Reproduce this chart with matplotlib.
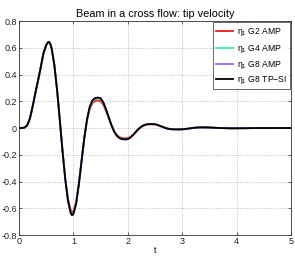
import matplotlib
matplotlib.use("Agg")
import matplotlib.pyplot as plt

plt.rcParams['font.family'] = ['Liberation Sans', 'DejaVu Sans']
plt.rcParams['mathtext.fontset'] = 'custom'
plt.rcParams['mathtext.rm'] = 'Liberation Sans'
plt.rcParams['mathtext.it'] = 'Liberation Sans:italic'

title = "Beam in a cross flow: tip velocity"
xlabel = "t"
labels = [r"$\mathrm{\eta_1}$ G2 AMP", r"$\mathrm{\eta_1}$ G4 AMP",
          r"$\mathrm{\eta_1}$ G8 AMP", r"$\mathrm{\eta_1}$ G8 TP−SI"]
colors = ["#ff1a1a", "#3ff59a", "#9a60ff", "#000000"]

t = [0.0, 0.05, 0.10, 0.15, 0.20, 0.25, 0.30, 0.35, 0.40, 0.45, 0.50, 0.525, 0.55, 0.575,
     0.60, 0.65, 0.70, 0.75, 0.80, 0.85, 0.90, 0.95, 0.975, 1.00, 1.05, 1.10, 1.15, 1.20,
     1.25, 1.30, 1.35, 1.40, 1.45, 1.50, 1.55, 1.60, 1.65, 1.70, 1.75, 1.80, 1.85, 1.90,
     1.95, 2.00, 2.05, 2.10, 2.15, 2.20, 2.25, 2.30, 2.35, 2.40, 2.45, 2.50, 2.55, 2.60,
     2.65, 2.70, 2.75, 2.80, 2.85, 2.90, 2.95, 3.00, 3.05, 3.10, 3.15, 3.20, 3.25, 3.30,
     3.35, 3.40, 3.50, 3.60, 3.70, 3.80, 3.90, 4.00, 4.20, 4.40, 4.60, 4.80, 5.00]

v_tpsi = [0.0, 0.0, 0.003, 0.02, 0.07, 0.16, 0.26, 0.355, 0.455, 0.56, 0.62, 0.638, 0.645, 0.630,
          0.596, 0.471, 0.285, 0.061, -0.172, -0.382, -0.543, -0.635, -0.652, -0.643, -0.567, -0.424, -0.248, -0.076,
          0.064, 0.158, 0.207, 0.224, 0.228, 0.223, 0.192, 0.140, 0.080, 0.021, -0.027, -0.059, -0.076, -0.083,
          -0.085, -0.083, -0.071, -0.051, -0.028, -0.006, 0.011, 0.022, 0.028, 0.030, 0.030, 0.0287, 0.023, 0.015,
          0.007, -0.001, -0.006, -0.009, -0.0098, -0.010, -0.010, -0.0095, -0.008, -0.005, -0.002, 0.001, 0.003, 0.004,
          0.005, 0.005, 0.004, 0.002, 0.0, -0.001, -0.002, -0.002, -0.001, 0.0, 0.0, 0.0, 0.0]

v_g8 = [0.0, 0.0, 0.003, 0.02, 0.07, 0.16, 0.26, 0.355, 0.455, 0.56, 0.62, 0.638, 0.645, 0.630,
        0.596, 0.471, 0.285, 0.061, -0.172, -0.382, -0.543, -0.634, -0.651, -0.642, -0.566, -0.423, -0.247, -0.076,
        0.063, 0.157, 0.206, 0.223, 0.227, 0.222, 0.191, 0.139, 0.080, 0.021, -0.027, -0.059, -0.076, -0.083,
        -0.085, -0.083, -0.071, -0.051, -0.028, -0.006, 0.011, 0.022, 0.028, 0.030, 0.030, 0.0287, 0.023, 0.015,
        0.007, -0.001, -0.006, -0.009, -0.0098, -0.010, -0.010, -0.0095, -0.008, -0.005, -0.002, 0.001, 0.003, 0.004,
        0.005, 0.005, 0.004, 0.002, 0.0, -0.001, -0.002, -0.002, -0.001, 0.0, 0.0, 0.0, 0.0]

v_g4 = [0.0, 0.0, 0.003, 0.02, 0.07, 0.16, 0.26, 0.355, 0.455, 0.56, 0.62, 0.638, 0.645, 0.630,
        0.596, 0.471, 0.285, 0.061, -0.171, -0.380, -0.540, -0.631, -0.647, -0.638, -0.562, -0.420, -0.245, -0.076,
        0.061, 0.153, 0.201, 0.217, 0.221, 0.216, 0.186, 0.135, 0.078, 0.021, -0.026, -0.057, -0.074, -0.081,
        -0.083, -0.081, -0.070, -0.050, -0.028, -0.006, 0.010, 0.021, 0.027, 0.029, 0.029, 0.028, 0.022, 0.015,
        0.007, -0.001, -0.006, -0.009, -0.0096, -0.010, -0.010, -0.0095, -0.008, -0.005, -0.002, 0.001, 0.003, 0.004,
        0.005, 0.005, 0.004, 0.002, 0.0, -0.001, -0.002, -0.002, -0.001, 0.0, 0.0, 0.0, 0.0]

v_g2 = [0.0, 0.0, 0.003, 0.02, 0.07, 0.16, 0.26, 0.355, 0.455, 0.56, 0.62, 0.638, 0.645, 0.630,
        0.596, 0.471, 0.285, 0.060, -0.170, -0.373, -0.528, -0.612, -0.628, -0.622, -0.552, -0.414, -0.244, -0.078,
        0.055, 0.142, 0.187, 0.203, 0.206, 0.201, 0.174, 0.127, 0.073, 0.020, -0.023, -0.052, -0.068, -0.075,
        -0.077, -0.075, -0.065, -0.047, -0.026, -0.006, 0.009, 0.019, 0.025, 0.027, 0.027, 0.026, 0.021, 0.014,
        0.006, -0.001, -0.005, -0.008, -0.009, -0.009, -0.009, -0.0088, -0.0075, -0.005, -0.002, 0.001, 0.003, 0.004,
        0.0045, 0.0045, 0.0035, 0.002, 0.0, -0.001, -0.0018, -0.0018, -0.001, 0.0, 0.0, 0.0, 0.0]

xticks = [0, 1, 2, 3, 4, 5]
yticks = [-0.8, -0.6, -0.4, -0.2, 0, 0.2, 0.4, 0.6, 0.8]
ytick_labels = ["-0.8", "-0.6", "-0.4", "-0.2", "0", "0.2", "0.4", "0.6", "0.8"]

fig = plt.figure(figsize=(2.95, 2.57), dpi=100)
ax = fig.add_axes([0.0644, 0.0856, 0.922, 0.8324])

series = [v_g2, v_g4, v_g8, v_tpsi]
for vals, c, lab in zip(series, colors, labels):
    ax.plot(t, vals, color=c, lw=1.3, label=lab)

ax.set_xlim(0, 5)
ax.set_ylim(-0.8, 0.8)
ax.set_xticks(xticks)
ax.set_yticks(yticks)
ax.set_yticklabels(ytick_labels)
ax.tick_params(direction='in', length=2.5, width=0.5, labelsize=6.5, pad=1.5,
               top=True, right=True, colors='#222222')
ax.grid(True, linestyle=':', color='#b0b0b0', linewidth=0.6)
for s in ax.spines.values():
    s.set_linewidth(0.6)
    s.set_color('#333333')
ax.set_title(title, fontsize=7.8, pad=3)
ax.set_xlabel(xlabel, fontsize=6.5, labelpad=0)

leg = ax.legend(loc='upper right', fontsize=6.2, frameon=True, fancybox=False,
                borderaxespad=0.15, handlelength=2.0, handletextpad=0.4,
                labelspacing=0.38, borderpad=0.35)
leg.get_frame().set_edgecolor('#222222')
leg.get_frame().set_linewidth(0.6)

fig.savefig("out.png", dpi=100)
